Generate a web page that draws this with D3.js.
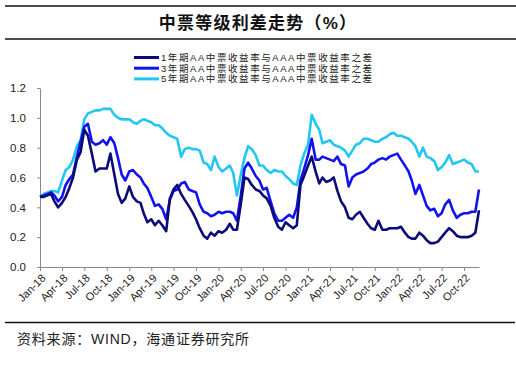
<!DOCTYPE html>
<html>
<head>
<meta charset="utf-8">
<script src="https://cdn.jsdelivr.net/npm/d3@7/dist/d3.min.js"></script>
<style>
  body { margin: 0; background: #fff; }
  svg { display: block; }
  text { font-family: "Liberation Sans", Arial, "Noto Sans CJK SC", sans-serif; }
  .cjk { font-family: "Liberation Sans", "Noto Sans CJK SC", sans-serif; }
</style>
</head>
<body>
<div id="chart"></div>
<script>
// semi-monthly observations, 1st and 16th of each month, Jan-18 .. Dec-22
var firstMonth = "2018-01";
var seriesNames = [
  "1年期AA中票收益率与AAA中票收益率之差",
  "3年期AA中票收益率与AAA中票收益率之差",
  "5年期AA中票收益率与AAA中票收益率之差"
];
var seriesColors = ["#0b0b78", "#1212ee", "#22c6f2"];

var spread1y = [
  0.47, 0.47, 0.48, 0.49, 0.44, 0.40, 0.43, 0.47, 0.53, 0.60,
  0.72, 0.77, 0.92, 0.88, 0.76, 0.64, 0.66, 0.66, 0.66, 0.76,
  0.62, 0.49, 0.43, 0.46, 0.54, 0.47, 0.44, 0.43, 0.36, 0.30,
  0.32, 0.28, 0.31, 0.28, 0.24, 0.46, 0.52, 0.55, 0.49, 0.45,
  0.41, 0.37, 0.32, 0.26, 0.21, 0.19, 0.23, 0.21, 0.24, 0.23,
  0.25, 0.29, 0.25, 0.25, 0.42, 0.60, 0.59, 0.55, 0.52, 0.51,
  0.48, 0.46, 0.41, 0.33, 0.27, 0.25, 0.30, 0.28, 0.26, 0.28,
  0.55, 0.61, 0.68, 0.74, 0.64, 0.56, 0.60, 0.57, 0.58, 0.60,
  0.51, 0.44, 0.40, 0.33, 0.32, 0.35, 0.37, 0.33, 0.29, 0.26,
  0.25, 0.31, 0.25, 0.25, 0.26, 0.26, 0.26, 0.27, 0.23, 0.20,
  0.19, 0.19, 0.23, 0.21, 0.18, 0.16, 0.16, 0.17, 0.20, 0.23,
  0.26, 0.24, 0.21, 0.20, 0.20, 0.20, 0.21, 0.23, 0.38
];
var spread3y = [
  0.47, 0.48, 0.49, 0.50, 0.48, 0.44, 0.47, 0.55, 0.59, 0.62,
  0.74, 0.84, 0.94, 0.96, 0.84, 0.82, 0.83, 0.85, 0.82, 0.87,
  0.83, 0.73, 0.62, 0.58, 0.64, 0.65, 0.62, 0.60, 0.56, 0.53,
  0.47, 0.41, 0.42, 0.39, 0.32, 0.45, 0.51, 0.52, 0.56, 0.57,
  0.52, 0.51, 0.50, 0.42, 0.37, 0.36, 0.34, 0.35, 0.37, 0.36,
  0.37, 0.37, 0.36, 0.31, 0.48, 0.66, 0.70, 0.66, 0.61, 0.58,
  0.52, 0.53, 0.44, 0.36, 0.31, 0.31, 0.33, 0.35, 0.33, 0.40,
  0.58, 0.66, 0.75, 0.86, 0.72, 0.72, 0.74, 0.73, 0.72, 0.71,
  0.74, 0.69, 0.68, 0.54, 0.60, 0.62, 0.63, 0.64, 0.66, 0.69,
  0.70, 0.72, 0.73, 0.72, 0.74, 0.75, 0.76, 0.72, 0.68, 0.64,
  0.58, 0.49, 0.55, 0.48, 0.41, 0.38, 0.39, 0.34, 0.36, 0.42,
  0.45, 0.38, 0.33, 0.35, 0.36, 0.36, 0.37, 0.37, 0.52
];
var spread5y = [
  0.47, 0.49, 0.50, 0.51, 0.51, 0.50, 0.58, 0.65, 0.67, 0.72,
  0.81, 0.85, 0.99, 1.03, 1.04, 1.05, 1.05, 1.06, 1.06, 1.06,
  1.02, 1.00, 0.99, 0.99, 0.99, 0.97, 0.96, 0.98, 0.99, 0.98,
  0.97, 0.95, 0.95, 0.93, 0.90, 0.88, 0.87, 0.86, 0.74, 0.79,
  0.80, 0.79, 0.79, 0.78, 0.70, 0.69, 0.65, 0.74, 0.67, 0.64,
  0.66, 0.68, 0.63, 0.48, 0.62, 0.73, 0.81, 0.79, 0.75, 0.68,
  0.68, 0.65, 0.63, 0.65, 0.64, 0.64, 0.61, 0.59, 0.56, 0.55,
  0.68, 0.76, 0.82, 1.02, 0.96, 0.92, 0.83, 0.84, 0.85, 0.82,
  0.81, 0.80, 0.78, 0.74, 0.78, 0.82, 0.83, 0.86, 0.86, 0.85,
  0.84, 0.84, 0.86, 0.87, 0.89, 0.90, 0.88, 0.88, 0.87, 0.86,
  0.84, 0.81, 0.74, 0.80, 0.74, 0.73, 0.71, 0.65, 0.67, 0.70,
  0.75, 0.69, 0.70, 0.71, 0.72, 0.70, 0.69, 0.64, 0.64
];
var yTicks = [0, 0.2, 0.4, 0.6, 0.8, 1.0, 1.2];
var title = "中票等级利差走势（%）";
var source = "资料来源：WIND，海通证券研究所";

var W = 516, H = 371;
var margin = {left: 40, right: 37, top: 88, bottom: 104};

var parseMonth = d3.timeParse("%Y-%m");
var start = parseMonth(firstMonth);
var dates = spread1y.map(function(d, i) {
  var m = d3.timeMonth.offset(start, Math.floor(i / 2));
  return i % 2 ? new Date(m.getFullYear(), m.getMonth(), 16) : m;
});

var svg = d3.select("#chart").append("svg")
  .attr("width", W)
  .attr("height", H);

svg.append("rect").attr("width", W).attr("height", H).attr("fill", "#fff");

// header / footer rules
svg.append("line").attr("x1", 5).attr("x2", 516).attr("y1", 6).attr("y2", 6)
  .attr("stroke", "#111").attr("stroke-width", 1.5);
svg.append("line").attr("x1", 5).attr("x2", 516).attr("y1", 39).attr("y2", 39)
  .attr("stroke", "#111").attr("stroke-width", 1.5);
svg.append("line").attr("x1", 5).attr("x2", 515).attr("y1", 322.5).attr("y2", 322.5)
  .attr("stroke", "#111").attr("stroke-width", 1.5);

svg.append("text")
  .attr("class", "cjk")
  .attr("x", 258).attr("y", 29)
  .attr("text-anchor", "middle")
  .style("font-size", "17px")
  .style("font-weight", "bold")
  .style("letter-spacing", "1.2px")
  .attr("fill", "#111")
  .text(title);

svg.append("text")
  .attr("class", "cjk")
  .attr("x", 17).attr("y", 344)
  .style("font-size", "14px")
  .style("letter-spacing", "0.8px")
  .attr("fill", "#222")
  .text(source);

var x = d3.scaleTime()
  .domain([start, d3.timeMonth.offset(start, 59)])
  .range([margin.left, W - margin.right]);

var y = d3.scaleLinear()
  .domain([0, 1.2])
  .range([H - margin.bottom, margin.top]);

// axes
var xTicks = d3.timeMonth.every(3).range(start, d3.timeMonth.offset(start, 58));
var xAxis = svg.append("g")
  .attr("transform", "translate(0," + y(0) + ")")
  .call(d3.axisBottom(x).tickValues(xTicks).tickFormat(d3.timeFormat("%b-%y"))
    .tickSizeInner(4).tickSizeOuter(0));
xAxis.selectAll("text")
  .attr("x", 0).attr("y", 0).attr("dy", "0.35em")
  .attr("text-anchor", "end")
  .attr("transform", "translate(3,9) rotate(-45)")
  .style("font-size", "11px")
  .attr("fill", "#222");

var yAxis = svg.append("g")
  .attr("transform", "translate(" + margin.left + ",0)")
  .call(d3.axisLeft(y).tickValues(yTicks).tickFormat(d3.format(".1f"))
    .tickSizeInner(3).tickSizeOuter(0).tickPadding(11));
yAxis.selectAll("text")
  .style("font-size", "11.5px")
  .attr("fill", "#222");

svg.selectAll(".domain, .tick line").attr("stroke", "#888");

// series
var allSeries = [spread1y, spread3y, spread5y];
var line = d3.line()
  .x(function(d, i) { return x(dates[i]); })
  .y(function(d) { return y(d); });

// draw back to front: 5y, 3y, 1y
[2, 1, 0].forEach(function(k) {
  svg.append("path")
    .datum(allSeries[k])
    .attr("fill", "none")
    .attr("stroke", seriesColors[k])
    .attr("stroke-width", 2.6)
    .attr("stroke-linejoin", "round")
    .attr("d", line);
});

// legend, rows packed tight as in the source
var legend = svg.append("g").attr("transform", "translate(134,57.5)");
seriesNames.forEach(function(name, k) {
  var row = legend.append("g").attr("transform", "translate(0," + (k * 10.7) + ")");
  row.append("line")
    .attr("x1", 0).attr("x2", 25)
    .attr("stroke", seriesColors[k]).attr("stroke-width", 3);
  row.append("text")
    .attr("class", "cjk")
    .attr("x", 27).attr("dy", "0.36em")
    .attr("textLength", 211)
    .attr("lengthAdjust", "spacing")
    .style("font-size", "9.5px")
    .attr("fill", "#222")
    .text(name);
});
</script>
</body>
</html>
